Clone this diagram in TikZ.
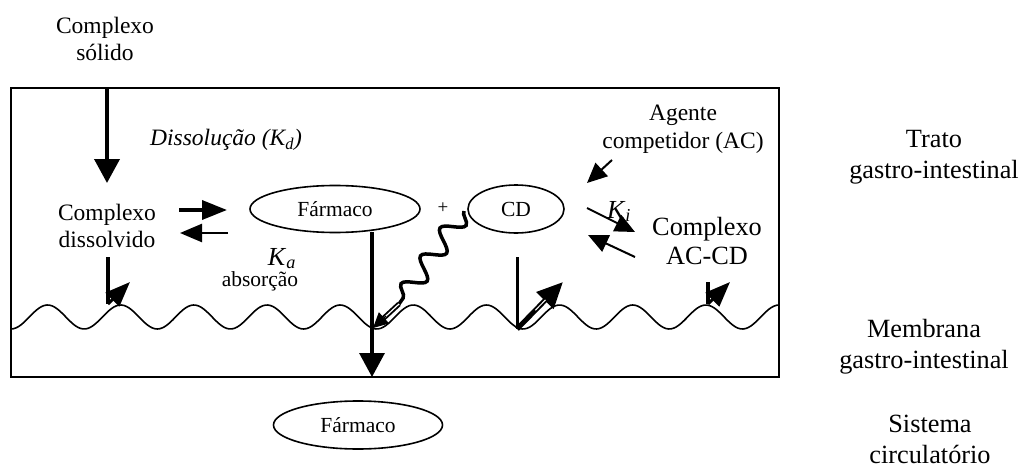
\documentclass[tikz,border=0pt]{standalone}
\usepackage{fontspec}
\setmainfont{Liberation Serif}
\usetikzlibrary{arrows.meta,shapes.geometric,decorations.pathmorphing,calc}
\begin{document}
\begin{tikzpicture}[x=1pt,y=-1pt,
  txt/.style={align=center,inner sep=0pt,font=\fontsize{23.5}{27.5}\selectfont},
  big/.style={align=center,inner sep=0pt,font=\fontsize{26.3}{31}\selectfont},
  ell/.style={ellipse,draw,line width=1.6pt,inner sep=0pt,font=\fontsize{21.5}{24}\selectfont},
  heavy/.style={line width=3.8pt,-{Triangle[length=24pt,width=25pt]}},
  eqtop/.style={line width=3.5pt,-{Triangle[length=25pt,width=19pt]}},
  eqbot/.style={line width=2.5pt,-{Triangle[length=22pt,width=18pt]}},
  thinarr/.style={line width=2pt,-{Triangle[length=20pt,width=18pt]}},
  stubarr/.style={line width=3pt,-{Triangle[length=25pt,width=19pt]}},
  membrane/.style={line width=1.6pt}
]
\useasboundingbox (0,0) rectangle (1022,468);

% frame
\node[draw,line width=2pt,minimum width=768pt,minimum height=289pt,inner sep=0pt] (box) at (395,232.5) {};

% membrane wave
\draw[membrane] plot[domain=11:779,samples=300,smooth] (\x,{317+12*cos((\x-11)/73.143*360)});

% texts
\node[txt] (solido) at (105,39) {Complexo\\sólido};
\node[txt] (diss) at (107,226) {Complexo\\dissolvido};
\node[anchor=base west,inner sep=0pt,font=\fontsize{23.5}{28}\selectfont\itshape] (dissol) at (150,146) {Dissolução (K\textsubscript{d})};
\node[ell,minimum width=170pt,minimum height=47pt] (farm) at (335,209) {Fármaco};
\node[inner sep=0pt,font=\fontsize{19}{20}\selectfont] (plus) at (443,208) {+};
\node[ell,minimum width=96pt,minimum height=48pt] (cd) at (516,209) {CD};
\node[anchor=base,inner sep=0pt,font=\fontsize{26}{28}\selectfont] (ka) at (282,265) {\textit{K}\textsubscript{\textit{a}}};
\node[anchor=base,inner sep=0pt,font=\fontsize{21.5}{24}\selectfont] (abs) at (260,286) {absorção};
\node[txt] (agente) at (683,129) {Agente\\competidor (AC)};
\node[anchor=base,inner sep=0pt,font=\fontsize{26}{28}\selectfont] (ki) at (619,218) {\textit{K}\textsubscript{\textit{i}}};
\node[big,font=\fontsize{26.3}{29.5}\selectfont] (acc) at (707,241) {Complexo\\AC-CD};
\node[big] (trato) at (934,157) {Trato\\gastro-intestinal};
\node[big] (membr) at (924,347) {Membrana\\gastro-intestinal};
\node[big] (sist) at (930,439) {Sistema\\circulatório};
\node[ell,minimum width=169pt,minimum height=48pt] (farm2) at (358,425) {Fármaco};

% coordinates for connector ends
\coordinate (s1) at (107,88);
\coordinate (s2) at (107,183);
\coordinate (e1a) at (179,210);
\coordinate (e1b) at (227,210);
\coordinate (e2a) at (228,233);
\coordinate (e2b) at (180,233);
\coordinate (f1) at (372,232);
\coordinate (f2) at (372,377);
\coordinate (d1) at (108,257);
\coordinate (d2) at (108,304);
\coordinate (d3) at (130,282);
\coordinate (c1) at (708,282);
\coordinate (c2) at (708,304);
\coordinate (c3) at (730,282);
\coordinate (v1) at (517,257);
\coordinate (v2) at (517,329);
\coordinate (v3) at (563,282);
\coordinate (w1) at (464,211);
\coordinate (w2) at (399,304);
\coordinate (w3) at (373,328);
\coordinate (a1) at (612,160);
\coordinate (a2) at (587,183);
\coordinate (k1) at (587,208);
\coordinate (k2) at (635,232);
\coordinate (k3) at (635,257);
\coordinate (k4) at (588,235);

% connectors
\draw[heavy] (s1) -- (s2);
\draw[eqtop] (e1a) -- (e1b);
\draw[eqbot] (e2a) -- (e2b);
\draw[heavy,line width=3.3pt] (f1) -- (f2);
\draw[line width=3.5pt] (d1) -- (d2);
\draw[stubarr] (d2) -- (d3);
\draw[line width=3.5pt] (c1) -- (c2);
\draw[stubarr] (c2) -- (c3);
\draw[line width=3pt] (v1) -- (v2);
\draw[line width=5pt,-{Triangle[length=26pt,width=23pt]}] (v2) -- (v3);
\draw[white,line width=1pt] ($(v2)!0.4!(v3)$) -- ($(v2)!0.62!(v3)$);
\draw[line width=3.5pt,decorate,decoration={snake,segment length=34pt,amplitude=10pt}] (w1) -- (w2);
\draw[line width=5pt] (w2) -- ($(w2)!0.6!(w3)$);
\draw[white,line width=1.2pt] (w2) -- ($(w2)!0.6!(w3)$);
\draw[line width=1pt,-{Triangle[length=15pt,width=15pt]}] ($(w2)!0.5!(w3)$) -- (w3);
\draw[thinarr] (a1) -- (a2);
\draw[thinarr] (k1) -- (k2);
\draw[thinarr] (k3) -- (k4);
\end{tikzpicture}
\end{document}
